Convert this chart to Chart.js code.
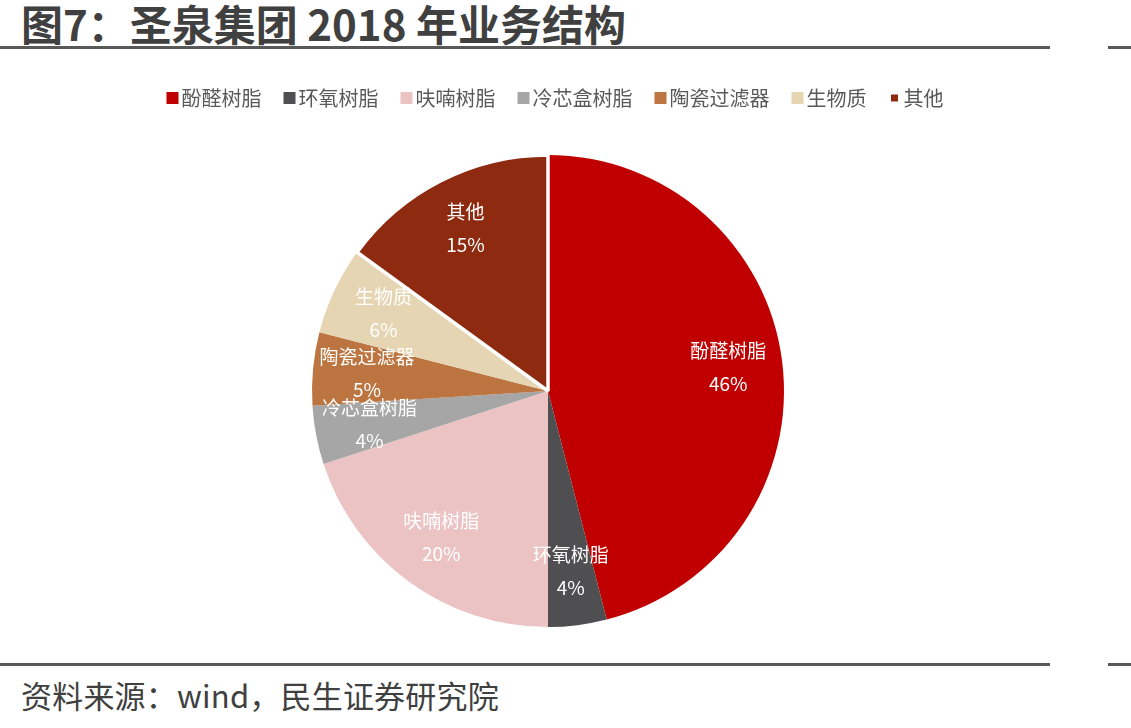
<!DOCTYPE html>
<html>
<head>
<meta charset="utf-8">
<script src="https://cdn.jsdelivr.net/npm/chart.js@4.4.1/dist/chart.umd.min.js"></script>
<style>
  html, body { margin: 0; padding: 0; background: #fff; }
  body { width: 1131px; height: 728px; position: relative; overflow: hidden;
         font-family: "Noto Sans CJK SC", "Noto Sans", sans-serif; }
  .title { position: absolute; left: 21px; top: -2px; font-size: 42px; font-weight: 700;
           color: #404040; line-height: 50px; letter-spacing: 0px; white-space: nowrap; }
  .rule { position: absolute; height: 3px; background: #595959; }
  .source { position: absolute; left: 21px; top: 675px; font-size: 31px; color: #404040;
            line-height: 40px; letter-spacing: 0.2px; white-space: nowrap; }
  .wrap { position: absolute; left: 0; top: 60px; width: 1096px; height: 610px; }
</style>
</head>
<body>
<div class="title">图7：圣泉集团 2018 年业务结构</div>
<div class="rule" style="left:0; top:46px; width:1050px;"></div>
<div class="rule" style="left:1108px; top:46px; width:23px;"></div>
<div class="wrap"><canvas id="chart"></canvas></div>
<div class="rule" style="left:0; top:663px; width:1050px;"></div>
<div class="rule" style="left:1108px; top:663px; width:23px;"></div>
<div class="source">资料来源：wind，民生证券研究院</div>

<script>
const categories = ["酚醛树脂", "环氧树脂", "呋喃树脂", "冷芯盒树脂", "陶瓷过滤器", "生物质", "其他"];
const shares = [46, 4, 20, 4, 5, 6, 15];
const colors = ["#C00000", "#4F4F51", "#EBC3C3", "#A6A6A6", "#BC7540", "#E6D5B3", "#8E2A10"];

const FONT = '"Noto Sans CJK SC", sans-serif';

// legend drawn by hand: small box, tight gap, like the Excel original
const topLegend = {
  id: "topLegend",
  afterDraw(c) {
    const { ctx } = c;
    const box = 12, gap = 3, spacing = 22;
    ctx.save();
    ctx.font = "20px " + FONT;
    const widths = categories.map((t) => ctx.measureText(t).width);
    const total = widths.reduce((a, w) => a + box + gap + w, 0) + spacing * (categories.length - 1);
    let x = (c.width - total) / 2 + 7;
    const y = 38;
    ctx.textBaseline = "middle";
    ctx.textAlign = "left";
    categories.forEach((t, i) => {
      ctx.fillStyle = colors[i];
      const b = i === categories.length - 1 ? 7 : box;
      ctx.fillRect(x + (box - b) / 2, y - b / 2, b, b);
      ctx.fillStyle = "#595959";
      ctx.fillText(t, x + box + gap, y);
      x += box + gap + widths[i] + spacing;
    });
    ctx.restore();
  }
};

const sliceLabels = {
  id: "sliceLabels",
  afterDatasetsDraw(c) {
    const { ctx } = c;
    const meta = c.getDatasetMeta(0);
    ctx.save();
    ctx.fillStyle = "#ffffff";
    ctx.textAlign = "center";
    ctx.textBaseline = "middle";
    ctx.font = "19px " + FONT;
    meta.data.forEach((arc, i) => {
      const p = arc.getProps(["x", "y", "startAngle", "endAngle", "outerRadius"], true);
      const mid = (p.startAngle + p.endAngle) / 2;
      const r = p.outerRadius * 0.77;
      const px = p.x + Math.cos(mid) * r;
      const py = p.y + Math.sin(mid) * r;
      ctx.fillText(categories[i], px, py - 17);
      ctx.fillText(shares[i] + "%", px, py + 16);
    });
    ctx.restore();
  }
};

new Chart(document.getElementById("chart"), {
  type: "pie",
  data: {
    labels: categories,
    datasets: [{
      data: shares,
      backgroundColor: colors,
      borderColor: "#ffffff",
      borderWidth: [0, 0, 0, 0, 0, 0, 3.5]
    }]
  },
  options: {
    responsive: true,
    maintainAspectRatio: false,
    animation: false,
    radius: 236,
    layout: { padding: { top: 52, bottom: 0 } },
    plugins: {
      tooltip: { enabled: false },
      legend: { display: false }
    }
  },
  plugins: [sliceLabels, topLegend]
});
</script>
</body>
</html>
